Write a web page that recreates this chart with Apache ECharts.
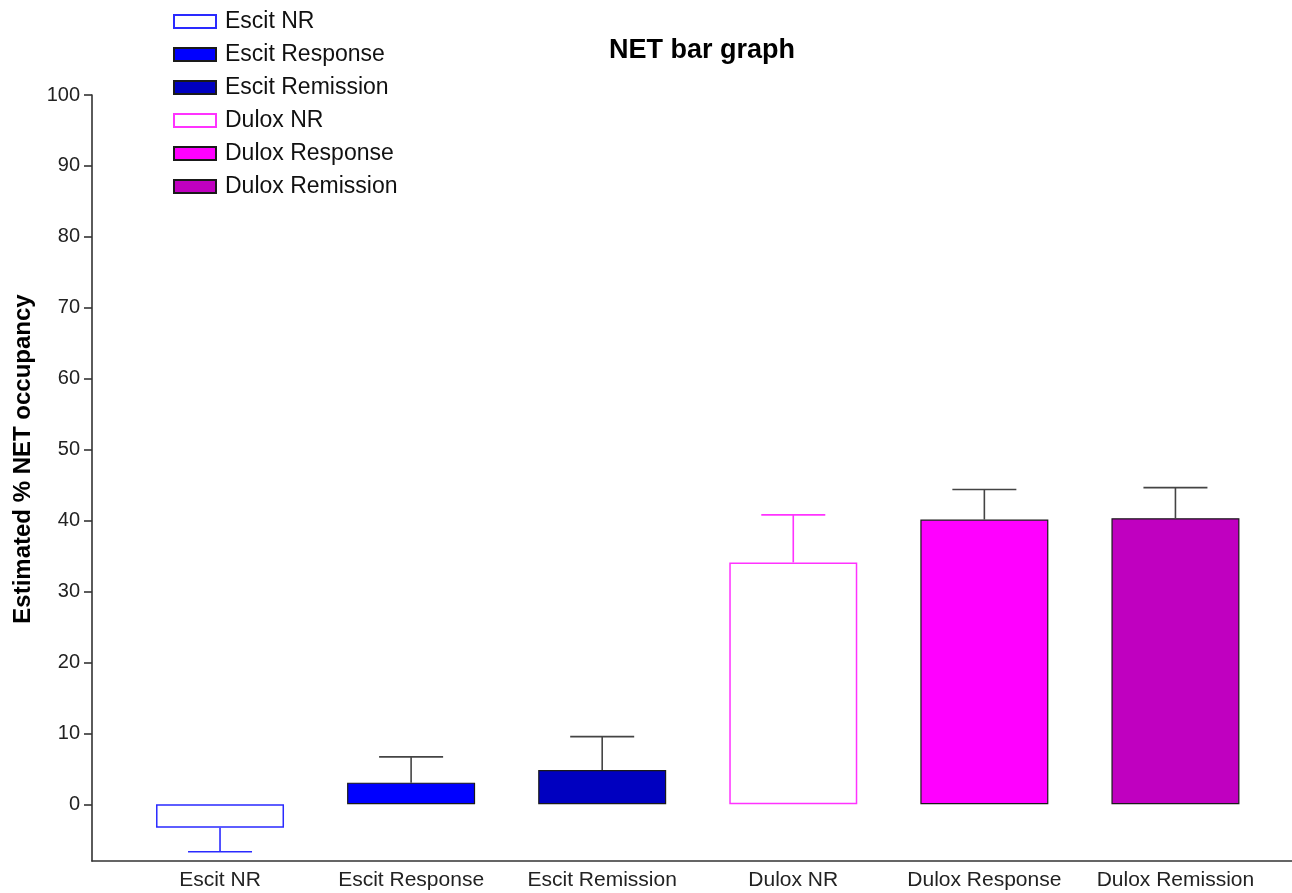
<!DOCTYPE html>
<html>
<head>
<meta charset="utf-8">
<title>NET bar graph</title>
<script src="https://cdn.jsdelivr.net/npm/echarts@6/dist/echarts.min.js"></script>
<style>
  html, body { margin: 0; padding: 0; background: #ffffff; }
  #chart { width: 1292px; height: 893px; }
</style>
</head>
<body>
<div id="chart"></div>
<script>
// Group names, mean occupancy (%) and error (one-sided SEM)
const categories = ['Escit NR', 'Escit Response', 'Escit Remission', 'Dulox NR', 'Dulox Response', 'Dulox Remission'];
const means = [-3.3, 3.05, 4.84, 34.1, 40.14, 40.33];
const errors = [3.4, 3.63, 4.7, 6.7, 4.23, 4.32];
const yTicks = [0, 10, 20, 30, 40, 50, 60, 70, 80, 90, 100];
const xTicks = [0, 1, 2, 3, 4, 5];

// Per-group appearance: fill, outline, error-bar colour
const fills = ['#ffffff', '#0000ff', '#0000c0', '#ffffff', '#ff00ff', '#c000c0'];
const outlines = ['#2a2aff', '#1a1a1a', '#1a1a1a', '#ff33ff', '#1a1a1a', '#1a1a1a'];
const outlineWidths = [1.5, 1.2, 1.2, 1.5, 1.2, 1.2];
const errColors = ['#2a2aff', '#444444', '#444444', '#ff33ff', '#444444', '#444444'];

const FONT = '"Liberation Sans", Arial, sans-serif';
const chart = echarts.init(document.getElementById('chart'), null, { renderer: 'canvas' });

const barSeries = categories.map((name, i) => ({
  name: name,
  type: 'bar',
  stack: 'groups',
  barWidth: 128,
  data: [[i, means[i]]],
  itemStyle: {
    color: fills[i],
    borderColor: outlines[i],
    borderWidth: outlineWidths[i]
  },
  emphasis: { disabled: true },
  z: 2
}));

const errorSeries = {
  type: 'custom',
  name: 'error',
  data: categories.map((_, i) => [i, means[i], errors[i]]),
  z: 3,
  silent: true,
  renderItem: function (params, api) {
    const idx = params.dataIndex;
    const x = api.value(0);
    const m = api.value(1);
    const e = api.value(2);
    const dir = m < 0 ? -1 : 1;
    const base = api.coord([x, m]);
    const tip = api.coord([x, m + dir * e]);
    const half = 32;
    const style = { stroke: errColors[idx], lineWidth: 1.6, fill: null };
    return {
      type: 'group',
      children: [
        { type: 'line', shape: { x1: base[0], y1: base[1], x2: tip[0], y2: tip[1] }, style: style },
        { type: 'line', shape: { x1: tip[0] - half, y1: tip[1], x2: tip[0] + half, y2: tip[1] }, style: style }
      ]
    };
  }
};

chart.setOption({
  animation: false,
  backgroundColor: '#ffffff',
  title: {
    text: 'NET bar graph',
    left: 697,
    top: 32,
    textAlign: 'center',
    textStyle: { fontFamily: FONT, fontSize: 27, fontWeight: 'bold', color: '#000000' }
  },
  legend: {
    orient: 'vertical',
    left: 173,
    top: 10,
    padding: 0,
    icon: 'rect',
    itemWidth: 42,
    itemHeight: 13,
    itemGap: 10,
    selectedMode: false,
    data: categories,
    textStyle: { fontFamily: FONT, fontSize: 23, color: '#111111', padding: [0, 0, 0, 4] }
  },
  grid: { left: 92, right: 0, top: 95, bottom: 32 },
  xAxis: {
    type: 'value',
    min: -0.67,
    max: 5.61,
    splitLine: { show: false },
    axisLine: { show: true, onZero: false, lineStyle: { color: '#333333', width: 1.6 } },
    axisTick: { show: false },
    axisLabel: {
      customValues: xTicks,
      formatter: v => categories[Math.round(v)] || '',
      fontFamily: FONT,
      fontSize: 21,
      color: '#222222',
      margin: 9
    }
  },
  yAxis: {
    type: 'value',
    min: -8,
    max: 100,
    name: 'Estimated % NET occupancy',
    nameLocation: 'middle',
    nameRotate: 90,
    nameGap: 49,
    nameTextStyle: { fontFamily: FONT, fontSize: 24, fontWeight: 'bold', color: '#000000', padding: [0, 0, 0, 38] },
    splitLine: { show: false },
    axisLine: { show: true, onZero: false, lineStyle: { color: '#333333', width: 1.6 } },
    axisTick: { show: true, customValues: yTicks, length: 8, lineStyle: { color: '#333333', width: 1.6 } },
    axisLabel: { customValues: yTicks, fontFamily: FONT, fontSize: 20, color: '#222222', margin: 12 }
  },
  series: barSeries.concat([errorSeries])
});
</script>
</body>
</html>
